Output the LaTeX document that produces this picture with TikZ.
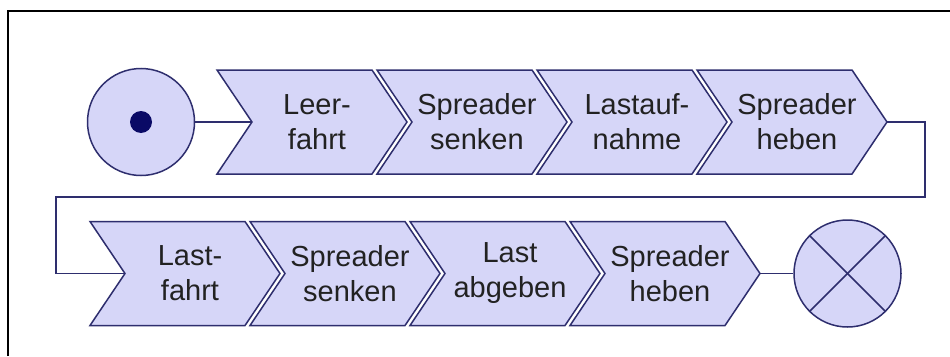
\documentclass[tikz,border=0pt]{standalone}
\usepackage{fontspec}
\setmainfont{Liberation Sans}
\definecolor{edgeblue}{HTML}{2E2E6E}
\definecolor{chevfill}{HTML}{D6D6F8}
\definecolor{dotblue}{HTML}{0A0A66}
\definecolor{txtgray}{HTML}{222222}

% step box: chevron outline, its label node and entry/exit coordinates
\newcommand{\chevstep}[4]{%
  \draw[chevron] (#2,#3-52) -- (#2+155,#3-52) -- (#2+190,#3) -- (#2+155,#3+52)
        -- (#2,#3+52) -- (#2+35,#3) -- cycle;
  \node[steplabel] (#1) at (#2+100,#3) {#4};
  \coordinate (#1-in) at (#2+35,#3);
  \coordinate (#1-out) at (#2+190,#3);
}

\begin{document}
\begin{tikzpicture}[x=1pt,y=-1pt,
  chevron/.style={draw=edgeblue,fill=chevfill,line width=1.5pt,line join=miter},
  steplabel/.style={align=center,text=txtgray,inner sep=0pt,
     font=\fontsize{29}{35}\selectfont},
  conn/.style={draw=edgeblue,line width=1.5pt},
  event/.style={circle,draw=edgeblue,fill=chevfill,line width=1.5pt,
     minimum size=107pt,inner sep=0pt}]
\useasboundingbox (0,0) rectangle (950,356);
\fill[white] (0,0) rectangle (950,356);
% frame edges
\draw[black,line width=2pt] (8,356) -- (8,11) -- (950,11);

% start event
\node[event] (start) at (141,122) {};
\fill[dotblue] (start.center) circle (11pt);

% upper row
\chevstep{c1}{217}{122}{Leer-\\fahrt}
\chevstep{c2}{377}{122}{Spreader\\senken}
\chevstep{c3}{537}{122}{Lastauf-\\nahme}
\chevstep{c4}{697}{122}{Spreader\\heben}

% lower row
\chevstep{c5}{90}{273.5}{Last-\\fahrt}
\chevstep{c6}{250}{273.5}{Spreader\\senken}
\chevstep{c7}{410}{273.5}{Last\\abgeben}
\chevstep{c8}{570}{273.5}{Spreader\\heben}

% end event
\node[event] (stop) at (847.5,273.5) {};
\draw[conn] (stop.45) -- (stop.225);
\draw[conn] (stop.135) -- (stop.315);

% connectors
\coordinate (turnR) at (925,197);
\coordinate (turnL) at (56,197);
\draw[conn] (start.east) -- (c1-in);
\draw[conn] (c4-out) -| (turnR) -- (turnL) |- (c5-in);
\draw[conn] (c8-out) -- (stop.west);
\end{tikzpicture}
\end{document}
